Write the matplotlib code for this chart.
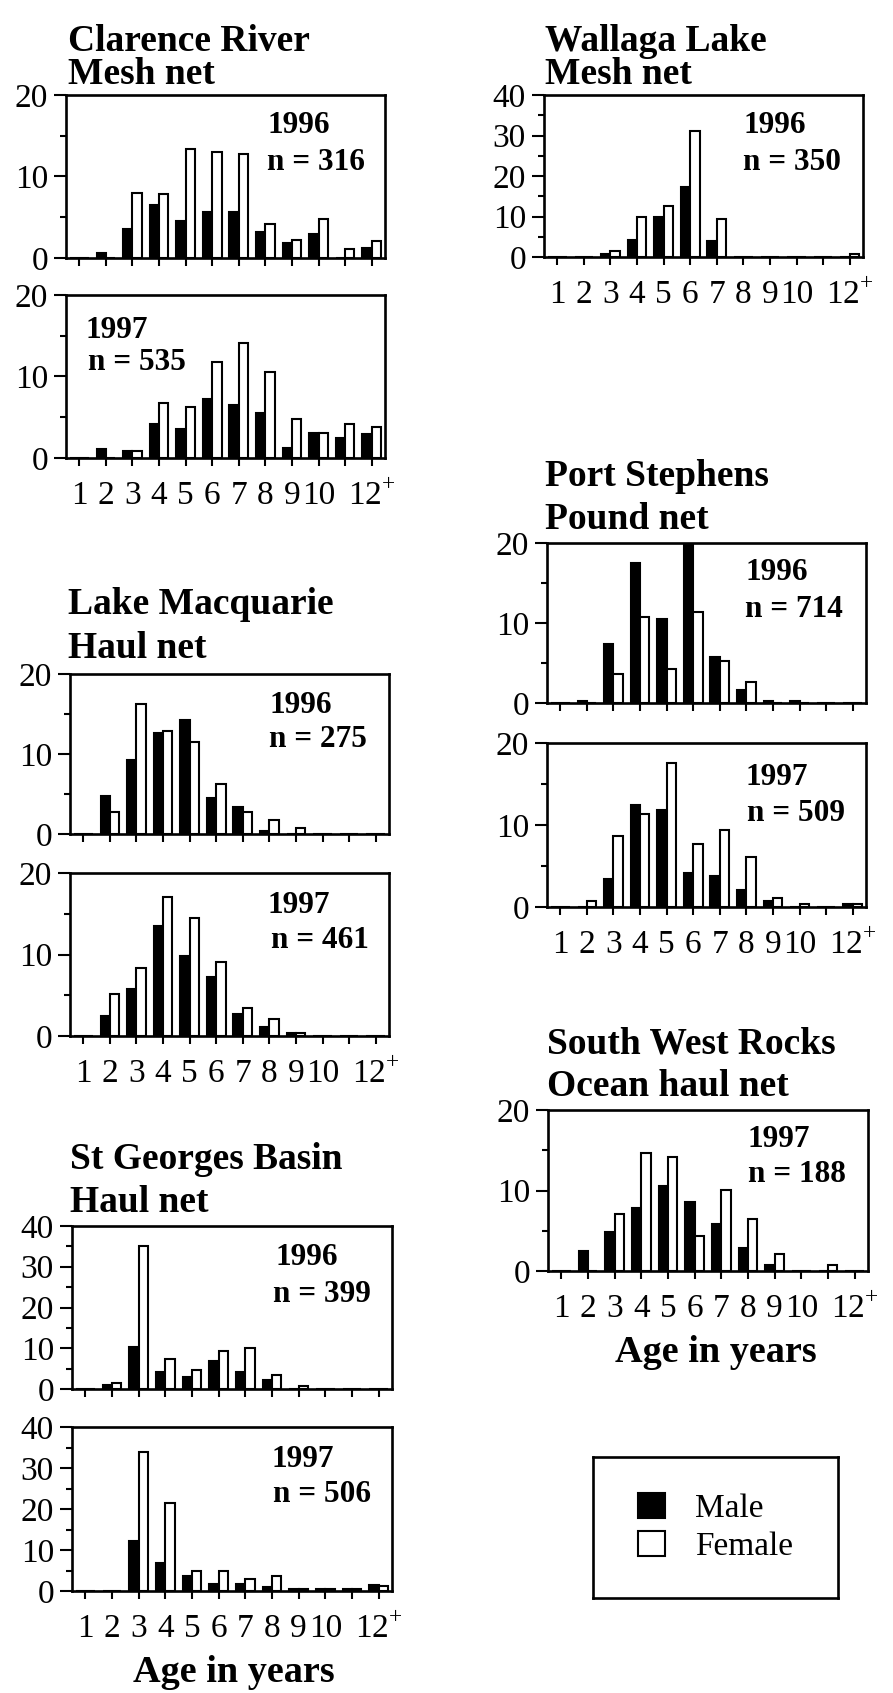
import matplotlib
matplotlib.use("Agg")
import matplotlib.pyplot as plt
from matplotlib.patches import Patch
import numpy as np

# ---------------- data ----------------
ages = [1, 2, 3, 4, 5, 6, 7, 8, 9, 10, 11, 12]
age_labels = ["1", "2", "3", "4", "5", "6", "7", "8", "9", "10", "", r"12$^{\mathregular{+}}$"]

clarence_1996_male = [0, 0.6, 3.6, 6.5, 4.5, 5.6, 5.6, 3.2, 1.9, 2.9, 0, 1.2]
clarence_1996_female = [0, 0, 8.0, 7.8, 13.4, 13.0, 12.8, 4.2, 2.2, 4.8, 1.1, 2.1]
clarence_1997_male = [0, 1.1, 0.8, 4.2, 3.5, 7.2, 6.5, 5.5, 1.2, 3.1, 2.5, 2.9]
clarence_1997_female = [0, 0, 0.8, 6.8, 6.2, 11.8, 14.1, 10.5, 4.8, 3.1, 4.2, 3.8]

macquarie_1996_male = [0, 4.8, 9.2, 12.6, 14.3, 4.5, 3.4, 0.4, 0, 0, 0, 0]
macquarie_1996_female = [0, 2.7, 16.3, 12.9, 11.5, 6.2, 2.7, 1.7, 0.7, 0, 0, 0]
macquarie_1997_male = [0, 2.5, 5.8, 13.5, 9.8, 7.2, 2.7, 1.1, 0.4, 0, 0, 0]
macquarie_1997_female = [0, 5.1, 8.4, 17.1, 14.5, 9.1, 3.4, 2.1, 0.4, 0, 0, 0]

georges_1996_male = [0, 0.9, 10.2, 4.2, 2.9, 6.8, 4.2, 2.3, 0, 0, 0, 0]
georges_1996_female = [0, 1.5, 35.1, 7.4, 4.7, 9.4, 10.0, 3.5, 0.8, 0, 0, 0]
georges_1997_male = [0, 0, 12.2, 6.9, 3.7, 1.8, 1.8, 1.0, 0.6, 0.6, 0.6, 1.5]
georges_1997_female = [0, 0, 33.8, 21.4, 4.9, 4.8, 3.0, 3.7, 0.6, 0.6, 0.6, 1.3]

wallaga_1996_male = [0, 0, 0.8, 4.1, 9.9, 17.4, 4.0, 0, 0, 0, 0, 0]
wallaga_1996_female = [0, 0, 1.5, 9.9, 12.6, 31.2, 9.3, 0, 0, 0, 0, 0.8]

stephens_1996_male = [0, 0.3, 7.4, 17.5, 10.5, 20.5, 5.7, 1.6, 0.3, 0.3, 0, 0]
stephens_1996_female = [0, 0, 3.6, 10.7, 4.3, 11.4, 5.3, 2.6, 0, 0, 0, 0]
stephens_1997_male = [0, 0, 3.4, 12.4, 11.8, 4.1, 3.8, 2.1, 0.7, 0, 0, 0.4]
stephens_1997_female = [0, 0.7, 8.7, 11.4, 17.6, 7.7, 9.4, 6.1, 1.1, 0.4, 0, 0.4]

swrocks_1997_male = [0, 2.5, 4.8, 7.8, 10.5, 8.6, 5.8, 2.9, 0.8, 0, 0, 0]
swrocks_1997_female = [0, 0, 7.1, 14.7, 14.1, 4.4, 10.1, 6.5, 2.1, 0, 0.8, 0]

# ---------------- style ----------------
plt.rcParams["font.family"] = ["Liberation Serif", "DejaVu Serif"]
plt.rcParams["mathtext.fontset"] = "custom"
plt.rcParams["mathtext.rm"] = "Liberation Serif"

W, H = 893, 1693
fig = plt.figure(figsize=(W / 100, H / 100), dpi=100)

TICK_FS = 24
ANN_FS = 22.5
TITLE_FS = 27
XLAB_FS = 27.5
BAR_W = 0.35
LW = 1.9


def add_axes_px(left, top, right, bottom):
    return fig.add_axes([left / W, 1 - bottom / H, (right - left) / W, (bottom - top) / H])


def ftext(x, y, s, **kw):
    fig.text(x / W, 1 - y / H, s, va="baseline", **kw)


def title(x, y1, y2, line1, line2):
    ftext(x, y1, line1, fontsize=TITLE_FS, fontweight="bold")
    ftext(x, y2, line2, fontsize=TITLE_FS, fontweight="bold")


def panel(box, male, female, ymax, show_labels, year, n, year_xy, n_xy):
    ax = add_axes_px(*box)
    x = np.array(ages, dtype=float)
    ax.bar(x - BAR_W / 2, male, width=BAR_W, color="black", edgecolor="black", linewidth=1.5, zorder=2)
    ax.bar(x + BAR_W / 2, female, width=BAR_W, color="white", edgecolor="black", linewidth=1.5, zorder=2)
    ax.set_xlim(0.5, 12.5)
    ax.set_ylim(0, ymax)
    ax.set_yticks(np.arange(0, ymax + 1, 10))
    ax.set_yticks(np.arange(5, ymax, 10), minor=True)
    ax.set_xticks(ages)
    if show_labels:
        ax.set_xticklabels(age_labels)
    else:
        ax.set_xticklabels([""] * len(ages))
    ax.tick_params(axis="y", which="major", direction="out", length=8.5, width=1.5,
                   labelsize=TICK_FS, pad=4.5)
    ax.tick_params(axis="y", which="minor", direction="out", length=4.5, width=1.5)
    ax.tick_params(axis="x", which="major", direction="out", length=6, width=1.5,
                   labelsize=TICK_FS, pad=10)
    for sp in ax.spines.values():
        sp.set_linewidth(LW)
    ftext(year_xy[0], year_xy[1], year, fontsize=ANN_FS, fontweight="bold")
    ftext(n_xy[0], n_xy[1], "n = %d" % n, fontsize=ANN_FS, fontweight="bold")
    return ax


# ---------------- left column ----------------
title(68, 51, 84, "Clarence River", "Mesh net")
panel((66, 95, 385, 258), clarence_1996_male, clarence_1996_female, 20, False,
      "1996", 316, (267, 133), (267, 170))
panel((66, 295, 385, 458), clarence_1997_male, clarence_1997_female, 20, True,
      "1997", 535, (85, 338), (88, 370))

title(68, 614, 658, "Lake Macquarie", "Haul net")
panel((70, 674, 389, 834), macquarie_1996_male, macquarie_1996_female, 20, False,
      "1996", 275, (269, 713), (269, 747))
panel((70, 873, 389, 1036), macquarie_1997_male, macquarie_1997_female, 20, True,
      "1997", 461, (268, 913), (271, 948))

title(70, 1169, 1212, "St Georges Basin", "Haul net")
panel((72, 1226, 392, 1389), georges_1996_male, georges_1996_female, 40, False,
      "1996", 399, (275, 1265), (273, 1302))
panel((72, 1427, 392, 1591), georges_1997_male, georges_1997_female, 40, True,
      "1997", 506, (272, 1467), (273, 1502))
fig.text(234 / W, 1 - 1682 / H, "Age in years", fontsize=XLAB_FS, fontweight="bold",
         ha="center", va="baseline")

# ---------------- right column ----------------
title(545, 51, 84, "Wallaga Lake", "Mesh net")
panel((544, 95, 863, 257), wallaga_1996_male, wallaga_1996_female, 40, True,
      "1996", 350, (743, 133), (743, 170))

title(545, 486, 529, "Port Stephens", "Pound net")
panel((547, 543, 866, 703), stephens_1996_male, stephens_1996_female, 20, False,
      "1996", 714, (745, 580), (745, 617))
panel((547, 743, 866, 907), stephens_1997_male, stephens_1997_female, 20, True,
      "1997", 509, (745, 785), (747, 821))

title(547, 1053, 1096, "South West Rocks", "Ocean haul net")
panel((548, 1110, 868, 1271), swrocks_1997_male, swrocks_1997_female, 20, True,
      "1997", 188, (747, 1147), (748, 1182))
fig.text(716 / W, 1 - 1362 / H, "Age in years", fontsize=XLAB_FS, fontweight="bold",
         ha="center", va="baseline")

# ---------------- legend ----------------
axl = add_axes_px(593, 1457, 838, 1598)
axl.set_xticks([])
axl.set_yticks([])
for sp in axl.spines.values():
    sp.set_linewidth(LW)
handles = [Patch(facecolor="black", edgecolor="black", linewidth=1.5),
           Patch(facecolor="white", edgecolor="black", linewidth=1.5)]
axl.legend(handles, ["Male", "Female"], loc="center", frameon=False, fontsize=24,
           handlelength=0.8, handleheight=0.8, handletextpad=0.9, labelspacing=0.2)

fig.savefig("out.png", dpi=100)
